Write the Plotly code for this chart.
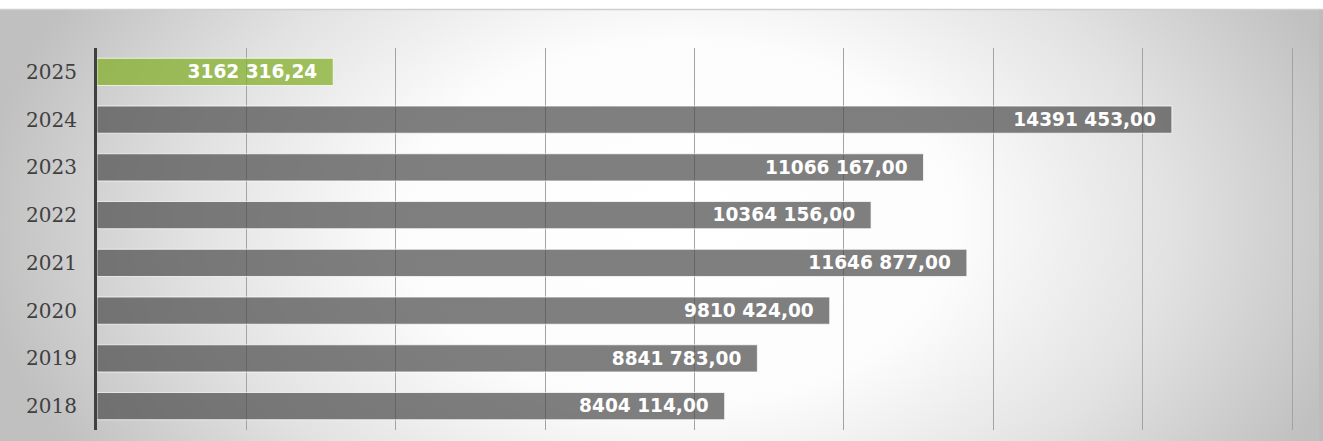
import plotly.graph_objects as go
import urllib.parse

years = ["2018", "2019", "2020", "2021", "2022", "2023", "2024", "2025"]
values = [8404114.00, 8841783.00, 9810424.00, 11646877.00, 10364156.00, 11066167.00, 14391453.00, 3162316.24]
bar_colors = ["rgba(78,78,78,0.72)"] * 7 + ["rgba(131,176,40,0.74)"]


def fmt(v):
    s = f"{v:.2f}".replace(".", ",")
    whole, frac = s.split(",")
    if len(whole) > 3:
        whole = whole[:-3] + " " + whole[-3:]
    return whole + "," + frac + "\u00a0\u00a0"


labels = [fmt(v) for v in values]

W, H = 1323, 441
L, R, T, B = 97, 27, 48, 11
pw, ph = W - L - R, H - T - B
xmax = 16000000 * pw / 1195.0  # 16M lands at x=1292, leaving room for the end gridline

svg = (
    f"<svg xmlns='http://www.w3.org/2000/svg' width='{W}' height='{H}' viewBox='0 0 {W} {H}' preserveAspectRatio='none'>"
    "<defs><radialGradient id='g' gradientUnits='userSpaceOnUse' cx='0' cy='0' r='1' "
    "gradientTransform='translate(680 223) scale(700 460)'>"
    "<stop offset='0' stop-color='#ffffff'/><stop offset='0.4' stop-color='#fcfcfc'/>"
    "<stop offset='0.7' stop-color='#e2e2e2'/><stop offset='1' stop-color='#c0c0c0'/></radialGradient></defs>"
    f"<rect x='0' y='0' width='{W}' height='{H}' fill='url(#g)'/>"
    f"<rect x='0' y='0' width='{W}' height='9' fill='#ffffff'/>"
    f"<line x1='0' y1='9.5' x2='{W}' y2='9.5' stroke='#cfcfcf' stroke-width='1.5'/>"
    f"<rect x='1319' y='10' width='4' height='{H - 10}' fill='#bcbcbc'/>"
    "</svg>"
)
src = "data:image/svg+xml;charset=utf-8," + urllib.parse.quote(svg)

img = dict(
    source=src, xref="paper", yref="paper",
    x=-L / pw, y=(H - B) / ph,
    sizex=W / pw, sizey=H / ph,
    sizing="stretch", xanchor="left", yanchor="top", layer="below",
)

fig = go.Figure(
    go.Bar(
        y=years, x=values, orientation="h",
        marker=dict(color=bar_colors, line=dict(color="rgba(255,255,255,0.75)", width=1)),
        width=0.57,
        text=labels, textposition="inside", insidetextanchor="end",
        textfont=dict(family="DejaVu Sans", size=21, color="white", weight="bold"),
        cliponaxis=False,
        hoverinfo="skip",
    )
)

fig.update_layout(
    width=W, height=H,
    margin=dict(l=L, r=R, t=T, b=B),
    paper_bgcolor="white", plot_bgcolor="rgba(0,0,0,0)",
    showlegend=False,
    images=[img],
    uniformtext=dict(mode=False),
)
fig.update_xaxes(
    range=[0, xmax], dtick=2000000, tick0=0,
    showgrid=True, gridcolor="#a3a3a3", gridwidth=1,
    showticklabels=False, zeroline=False, showline=False, ticks="",
)
fig.update_yaxes(
    type="category", categoryorder="array", categoryarray=years,
    range=[-0.5, 7.5],
    showline=True, linecolor="#404040", linewidth=3,
    showgrid=False, ticks="", ticklabelstandoff=13,
    tickfont=dict(family="DejaVu Serif", size=20, color="#404040"),
)

fig.write_html(
    "out.html",
    config={"displayModeBar": False},
    post_script="document.body.style.margin='0';document.body.style.overflow='hidden';",
)
